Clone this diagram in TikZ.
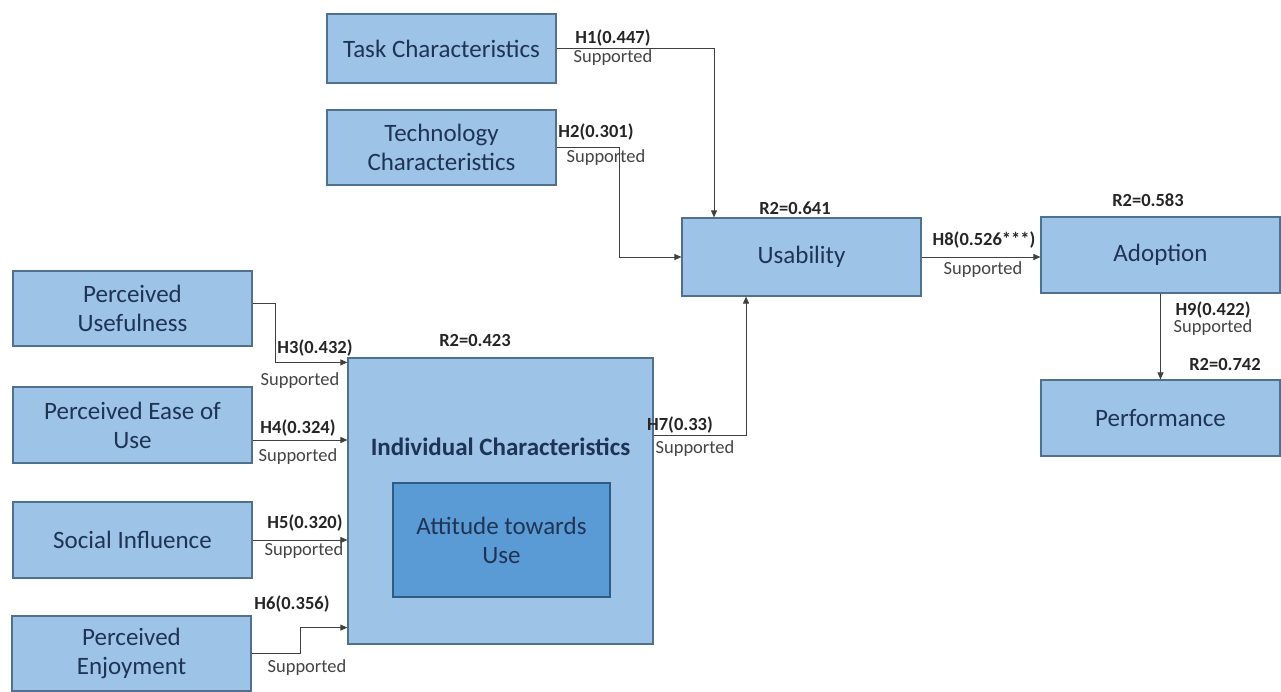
\documentclass[tikz,border=0pt]{standalone}
\usepackage{fontspec}
\setmainfont{Carlito}
\usetikzlibrary{arrows.meta}
\definecolor{boxfill}{HTML}{9DC3E6}
\definecolor{boxline}{HTML}{50708F}
\definecolor{innerfill}{HTML}{5B9BD5}
\definecolor{innerline}{HTML}{2F5C85}
\definecolor{boxtext}{HTML}{1F3455}
\definecolor{suptext}{HTML}{444444}
\tikzset{
  box/.style={draw=boxline, line width=1.2pt, fill=boxfill, align=center, inner sep=0pt,
    text=boxtext, font=\fontsize{25}{29}\selectfont},
  innerbox/.style={box, fill=innerfill, draw=innerline},
  arr/.style={draw=black!75, line width=0.9pt, -{Triangle[length=7pt,width=6pt]}},
  hlab/.style={font=\bfseries\fontsize{18.5}{20}\selectfont, text=black!85, inner sep=0pt},
  slab/.style={font=\fontsize{18.5}{20}\selectfont, text=suptext, inner sep=0pt},
}
\begin{document}
\begin{tikzpicture}[x=1pt,y=-1pt]
\useasboundingbox (0,0) rectangle (1281,692);
\fill[white] (0,0) rectangle (1281,692);
% boxes
\node[box, minimum width=229pt, minimum height=69pt] (task) at (441.5,48.5) {Task Characteristics};
\node[box, minimum width=229pt, minimum height=75pt] (tech) at (441.5,147.5) {Technology\\Characteristics};
\node[box, minimum width=239pt, minimum height=78pt] (usab) at (801.5,257) {Usability};
\node[box, minimum width=239pt, minimum height=76pt] (adop) at (1160.5,255) {Adoption};
\node[box, minimum width=239pt, minimum height=76pt] (perf) at (1160.5,418) {Performance};
\node[box, minimum width=239pt, minimum height=75pt] (pu) at (132.5,308.5) {Perceived\\Usefulness};
\node[box, minimum width=239pt, minimum height=76pt] (peou) at (132.5,425) {Perceived Ease of\\Use};
\node[box, minimum width=239pt, minimum height=76pt] (si) at (132.5,540) {Social Influence};
\node[box, minimum width=239pt, minimum height=75pt] (pe) at (131.5,653.5) {Perceived\\Enjoyment};
\node[box, minimum width=305pt, minimum height=286pt] (ic) at (500.5,501) {};
\node[font=\bfseries\fontsize{25}{29}\selectfont, text=boxtext] (ict) at (500.5,447) {Individual Characteristics};
\node[innerbox, minimum width=217pt, minimum height=114pt] (att) at (501.5,540) {Attitude towards\\Use};
% connectors
\draw[arr] ([yshift=0.5pt]task.east) -| ([xshift=-87.5pt]usab.north);
\draw[arr] (tech.east) -- ++(63,0) |- (usab.west);
\draw[arr] ([yshift=5.5pt]pu.east) -- ++(23,0) |- ([yshift=-5pt]ic.north west);
\draw[arr] ([yshift=-15pt]peou.east) -- ([yshift=-15pt]peou.east -| ic.west);
\draw[arr] (si.east) -- (si.east -| ic.west);
\draw[arr] (pe.east) -- ++(49,0) |- ([yshift=17pt]ic.south west);
\draw[arr] ([yshift=66pt]ic.east) -| ([xshift=-55.5pt]usab.south);
\draw[arr] (usab.east) -- (usab.east -| adop.west);
\draw[arr] (adop.south) -- (perf.north);
% labels
\node[hlab] (r1) at (795,208) {R2=0.641};
\node[hlab] (r2) at (1148,200) {R2=0.583};
\node[hlab] (r3) at (1225,364) {R2=0.742};
\node[hlab] (r4) at (475,340) {R2=0.423};
\node[hlab] (l1) at (613,38) {H1(0.447)};
\node[slab] (s1) at (613,58) {Supported};
\node[hlab] (l2) at (596,132) {H2(0.301)};
\node[slab] (s2) at (606,158) {Supported};
\node[hlab] (l3) at (315,348) {H3(0.432)};
\node[slab] (s3) at (300,381) {Supported};
\node[hlab] (l4) at (298,428) {H4(0.324)};
\node[slab] (s4) at (298,457) {Supported};
\node[hlab] (l5) at (305,523) {H5(0.320)};
\node[slab] (s5) at (304,551) {Supported};
\node[hlab] (l6) at (292,604) {H6(0.356)};
\node[slab] (s6) at (307,668) {Supported};
\node[hlab] (l7) at (680,425) {H7(0.33)};
\node[slab] (s7) at (695,449) {Supported};
\node[hlab] (l8) at (984,240) {H8(0.526***)};
\node[slab] (s8) at (983,270) {Supported};
\node[hlab] (l9) at (1213,310) {H9(0.422)};
\node[slab] (s9) at (1213,328) {Supported};
\end{tikzpicture}
\end{document}
